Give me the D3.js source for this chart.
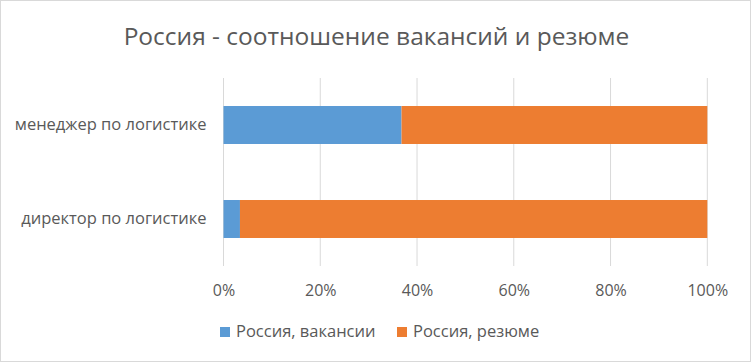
<!DOCTYPE html>
<html>
<head>
<meta charset="utf-8">
<script src="https://cdn.jsdelivr.net/npm/d3@7"></script>
<style>
  body { margin: 0; background: #fff; }
  svg { font-family: "Open Sans", sans-serif; }
</style>
</head>
<body>
<svg></svg>
<script>
// chart data
var categories = ["менеджер по логистике", "директор по логистике"];
var seriesNames = ["Россия, вакансии", "Россия, резюме"];
var vacancies = [36.8, 3.4];
var resumes = [63.2, 96.6];
var tickLabels = [0, 20, 40, 60, 80, 100];
var colors = ["#5b9bd5", "#ed7d31"];

window.onload = function(){
    var width = 752, height = 363;
    var svgCanvas = d3.select("svg")
        .attr("width", width)
        .attr("height", height);

    // outer frame
    svgCanvas.append("rect")
        .attr("x", 0.5).attr("y", 0.5)
        .attr("width", width - 2).attr("height", height - 2)
        .attr("fill", "#fff")
        .attr("stroke", "#d9d9d9");

    svgCanvas.append("text")
        .attr("x", 376.5).attr("y", 45)
        .attr("text-anchor", "middle")
        .attr("font-size", 24.5)
        .attr("fill", "#595959")
        .text("Россия - соотношение вакансий и резюме");

    var x = d3.scaleLinear().domain([0, 100]).range([223.5, 707.3]);
    var y = d3.scaleBand().domain(categories).range([78, 266])
        .paddingInner(0.596).paddingOuter(0.298);

    // gridlines
    svgCanvas.selectAll("line.grid")
        .data(tickLabels).enter()
        .append("line")
        .attr("class", "grid")
        .attr("x1", function(d){ return x(d); })
        .attr("x2", function(d){ return x(d); })
        .attr("y1", 78).attr("y2", 266)
        .attr("stroke", "#d9d9d9")
        .attr("stroke-width", 1);

    // stacked rows
    var rows = categories.map(function(c, i){
        return { cat: c, v: vacancies[i], r: resumes[i] };
    });
    var stack = d3.stack().keys(["v", "r"]);
    var layers = stack(rows);

    svgCanvas.selectAll("g.layer")
        .data(layers).enter()
        .append("g")
        .attr("fill", function(d, i){ return colors[i]; })
        .selectAll("rect")
        .data(function(d){ return d; }).enter()
        .append("rect")
        .attr("x", function(d){ return x(d[0]); })
        .attr("width", function(d){ return x(d[1]) - x(d[0]); })
        .attr("y", function(d){ return y(d.data.cat); })
        .attr("height", y.bandwidth());

    // axes
    var xAxis = d3.axisBottom(x)
        .tickValues(tickLabels)
        .tickSize(0)
        .tickPadding(0)
        .tickFormat(function(d){ return d + "%"; });
    var gx = svgCanvas.append("g")
        .attr("transform", "translate(0,284.6)")
        .call(xAxis);
    gx.select(".domain").remove();
    gx.selectAll("text")
        .attr("font-family", "Open Sans, sans-serif")
        .attr("font-size", 16)
        .attr("fill", "#595959");

    var yAxis = d3.axisLeft(y).tickSize(0).tickPadding(17);
    var gy = svgCanvas.append("g")
        .attr("transform", "translate(223.5,0)")
        .call(yAxis);
    gy.select(".domain").remove();
    gy.selectAll("text")
        .attr("font-family", "Open Sans, sans-serif")
        .attr("font-size", 16.5)
        .attr("fill", "#595959");

    // legend
    var legendX = [220, 397];
    var legend = svgCanvas.selectAll("g.legend")
        .data(seriesNames).enter()
        .append("g")
        .attr("transform", function(d, i){ return "translate(" + legendX[i] + ",327)"; });
    legend.append("rect")
        .attr("width", 10).attr("height", 10)
        .attr("fill", function(d, i){ return colors[i]; });
    legend.append("text")
        .attr("x", 16).attr("y", 10)
        .attr("font-size", 16.5)
        .attr("fill", "#595959")
        .text(function(d){ return d; });
}
</script>
</body>
</html>
